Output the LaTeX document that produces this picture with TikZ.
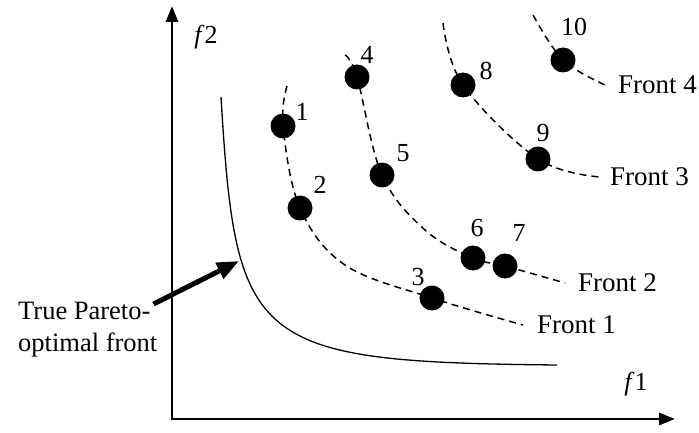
\documentclass[tikz,border=0pt]{standalone}
\usepackage{fontspec}
\setmainfont{Liberation Serif}
\usetikzlibrary{arrows.meta, positioning}

\begin{document}
\begin{tikzpicture}[x=1pt, y=-1pt,
    dot/.style={circle, fill=black, minimum size=25pt, inner sep=0pt},
    num/.style={font=\fontsize{26}{30}\selectfont, inner sep=0pt},
    tag/.style={font=\fontsize{27}{30}\selectfont, anchor=west, inner sep=0pt},
    front/.style={dash pattern=on 7pt off 5pt, line width=1.5pt},
    axis/.style={line width=2.8pt, {Triangle[length=16pt, width=12pt]}-{Triangle[length=16pt, width=12pt]}}]

    \useasboundingbox (0,0) rectangle (699,433);

    % Draw axes
    \coordinate (O) at (172,419);
    \coordinate (ytop) at (172,6);
    \coordinate (xend) at (675,419);
    \draw[axis] (ytop) -- (O) -- (xend);
    \node[num] (f2) at (206,37) {\textit{f}2};
    \node[num] (f1) at (636,384) {\textit{f}1};

    % True Pareto-optimal front
    \coordinate (pf0) at (221,97);
    \coordinate (pf1) at (557,365);
    \draw[line width=1.3pt] (pf0) .. controls (236,345) and (250,362) .. (pf1);
    \coordinate (tip) at (239,261);
    \node[num, align=left, font=\fontsize{26.5}{32}\selectfont, anchor=north west] (txt) at (18,302) {True Pareto-\\optimal front};
    \draw[line width=5pt, -{Triangle[length=22pt, width=17pt]}] ([shift={(-4,2)}]txt.north east) -- (tip);

    % Solutions
    \node[dot] (p1) at (283,126) {};
    \node[dot] (p2) at (300,208) {};
    \node[dot] (p3) at (432,298) {};
    \node[dot] (p4) at (357,77) {};
    \node[dot] (p5) at (382,175) {};
    \node[dot] (p6) at (473,258) {};
    \node[dot] (p7) at (505,266) {};
    \node[dot] (p8) at (463,85) {};
    \node[dot] (p9) at (538,159) {};
    \node[dot] (p10) at (563,60) {};

    \node[num] (n1) at ([shift={(19,-14)}]p1.center) {1};
    \node[num] (n2) at ([shift={(20,-23)}]p2.center) {2};
    \node[num] (n3) at ([shift={(-14,-21)}]p3.center) {3};
    \node[num] (n4) at ([shift={(10,-22)}]p4.center) {4};
    \node[num] (n5) at ([shift={(21,-22)}]p5.center) {5};
    \node[num] (n6) at ([shift={(4,-30)}]p6.center) {6};
    \node[num] (n7) at ([shift={(14,-33)}]p7.center) {7};
    \node[num] (n8) at ([shift={(23,-14)}]p8.center) {8};
    \node[num] (n9) at ([shift={(5,-26)}]p9.center) {9};
    \node[num] (n10) at ([shift={(11,-33)}]p10.center) {10};

    % Fronts
    \node[tag] (F1) at (537,325) {Front 1};
    \node[tag] (F2) at (578,283) {Front 2};
    \node[tag] (F3) at (610,177) {Front 3};
    \node[tag] (F4) at (618,85) {Front 4};

    \draw[front] plot[smooth, tension=0.6] coordinates
        {(287,86) (p1.center) (p2.center) (345,265) (p3.center) ([xshift=-14pt]F1.west)};
    \draw[front] plot[smooth, tension=0.6] coordinates
        {(345,55) (p4.center) (p5.center) (425,230) (p6.center) (p7.center) ([xshift=-13pt]F2.west)};
    \draw[front] plot[smooth, tension=0.6] coordinates
        {(443,23) (p8.center) (p9.center) ([xshift=-10pt]F3.west)};
    \draw[front] plot[smooth, tension=0.6] coordinates
        {(533,15) (p10.center) ([xshift=-13pt]F4.west)};

\end{tikzpicture}
\end{document}
